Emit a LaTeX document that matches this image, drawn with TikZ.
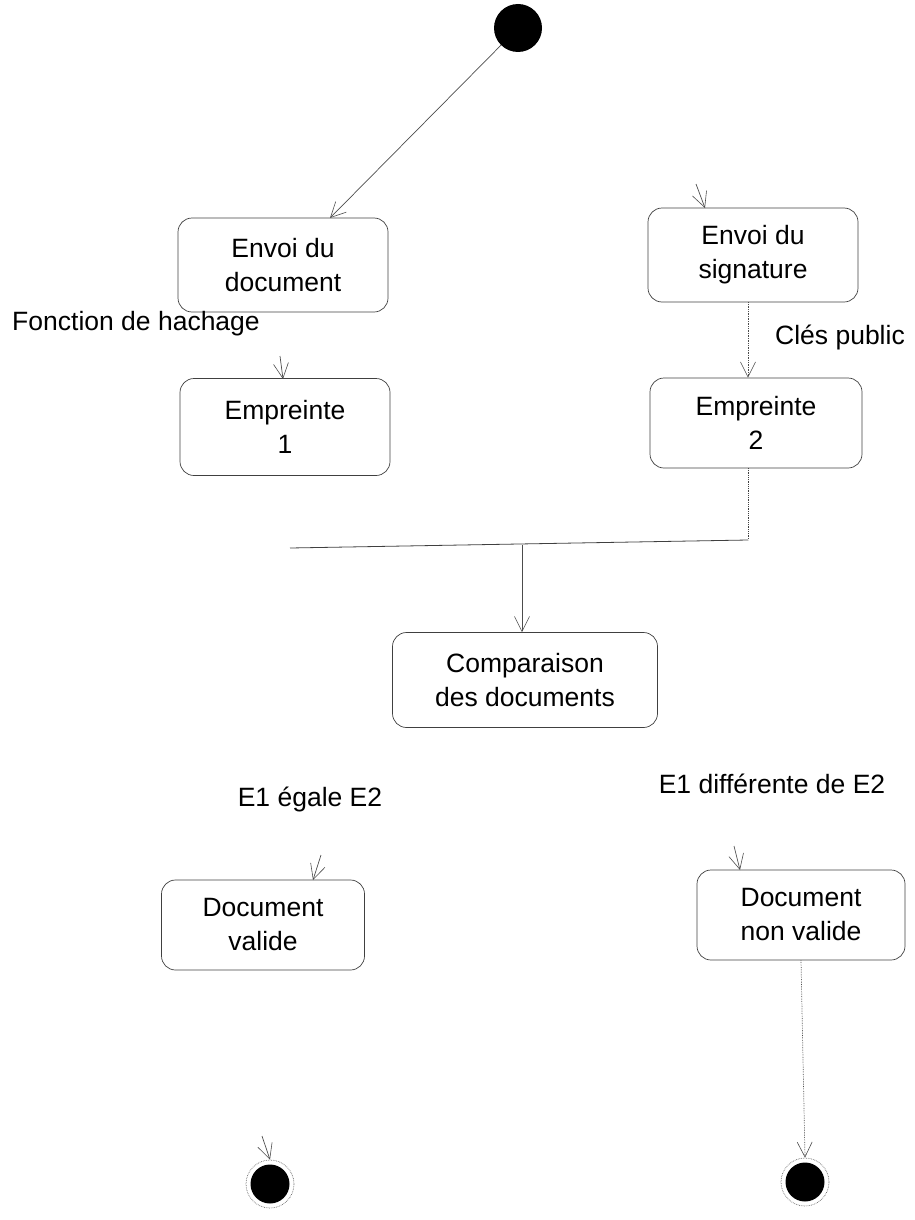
\documentclass[tikz,border=0pt]{standalone}
\usepackage{fontspec}
\setmainfont{Liberation Sans}
\usetikzlibrary{arrows.meta}
\begin{document}
\begin{tikzpicture}[x=1pt,y=-1pt,
  state/.style={draw=black!75, line width=0.7pt, rounded corners=14pt, align=center,
    font=\fontsize{26.5}{34}\selectfont, inner sep=0pt},
  lbl/.style={font=\fontsize{26.5}{30}\selectfont, inner sep=0pt},
  flow/.style={draw=black!70, line width=0.7pt, -{Straight Barb[length=15pt,width=15pt,line width=0.6pt]}},
  dotflow/.style={flow, densely dotted},
  plain/.style={draw=black!75, line width=0.8pt}]
\useasboundingbox (0,0) rectangle (914,1220);

% start and final states
\node[circle, fill=black, minimum size=48pt, inner sep=0pt] (start) at (518,28) {};
\node[circle, draw=black!60, densely dotted, line width=0.7pt, minimum size=48pt, inner sep=0pt] (endA) at (270,1184) {};
\node[circle, fill=black, minimum size=39pt, inner sep=0pt] (endAin) at (270,1184) {};
\node[circle, draw=black!60, densely dotted, line width=0.7pt, minimum size=48pt, inner sep=0pt] (endB) at (805,1182) {};
\node[circle, fill=black, minimum size=39pt, inner sep=0pt] (endBin) at (805,1182) {};

% states
\node[state, minimum width=210pt, minimum height=94pt] (doc) at (283,265) {Envoi du\\document};
\node[state, minimum width=210pt, minimum height=94pt] (sig) at (753,255) {Envoi du\\signature};
\node[state, minimum width=210pt, minimum height=97pt] (emp1) at (285,427) {Empreinte\\1};
\node[state, minimum width=212pt, minimum height=90pt] (emp2) at (756,423) {Empreinte\\2};
\node[state, minimum width=265pt, minimum height=95pt] (comp) at (525,680) {Comparaison\\des documents};
\node[state, minimum width=203pt, minimum height=90pt] (valid) at (263,925) {Document\\valide};
\node[state, minimum width=208pt, minimum height=90pt] (nonvalid) at (801,915) {Document\\non valide};

% labels
\node[lbl] (lhach) at (136,324) {Fonction de hachage};
\node[lbl] (lcles) at (840,337) {Clés public};
\node[lbl] (legal) at (310,799) {E1 égale E2};
\node[lbl] (ldiff) at (772,784) {E1 différente de E2};

% coordinates
\coordinate (docin) at (330,218);
\coordinate (sigin) at (705,208);
\coordinate (sigstub) at (696,184);
\coordinate (emp1in) at (283,379);
\coordinate (emp1stub) at (280,356);
\coordinate (validin) at (313,880);
\coordinate (validstub) at (321,855);
\coordinate (nvin) at (740,870);
\coordinate (nvstub) at (734,846);
\coordinate (endAstub) at (262,1136);
\coordinate (barL) at (290,548);
\coordinate (barR) at (748,540);
\coordinate (barM) at (522,545);
\coordinate (emp2out) at (748,468);

% connectors
\draw[flow] (start) -- (docin);
\draw[flow] (sigstub) -- (sigin);
\draw[flow] (emp1stub) -- (emp1in);
\draw[dotflow] (sig.south -| emp2out) -- (emp2.north -| emp2out);
\draw[plain, densely dotted] (emp2out) -- (barR);
\draw[plain] (barL) -- (barR);
\draw[flow] (barM) -- (barM |- comp.north);
\draw[flow] (validstub) -- (validin);
\draw[flow] (nvstub) -- (nvin);
\draw[flow] (endAstub) -- (endA.north);
\draw[dotflow] (nonvalid.south) -- (endB.north);
\end{tikzpicture}
\end{document}
